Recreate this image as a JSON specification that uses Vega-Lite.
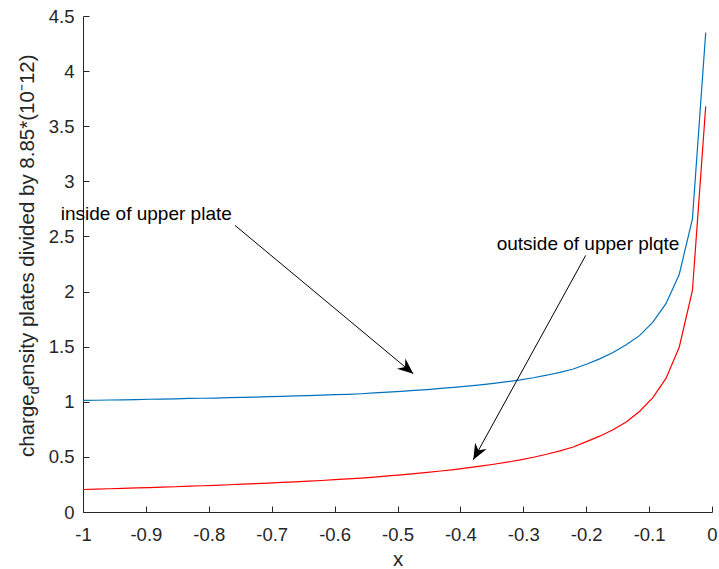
{
  "$schema": "https://vega.github.io/schema/vega-lite/v6.json",
  "width": 629,
  "height": 496,
  "autosize": {"type": "none"},
  "padding": {"left": 83, "top": 16, "right": 7, "bottom": 57},
  "background": "white",
  "config": {
    "view": {"stroke": null},
    "font": "Liberation Sans",
    "axis": {
      "grid": false,
      "domainColor": "#262626",
      "domainWidth": 1,
      "tickColor": "#262626",
      "tickWidth": 1,
      "tickSize": -6,
      "labelFlush": false,
      "labelOverlap": false,
      "labelColor": "#262626",
      "labelFont": "Liberation Sans",
      "labelFontSize": 18.5,
      "labelFontWeight": "normal",
      "titleColor": "#262626",
      "titleFont": "Liberation Sans",
      "titleFontSize": 20.5,
      "titleFontWeight": "normal"
    }
  },
  "datasets": {
    "curves": [
      {"x": -1.0000, "inside": 1.012, "outside": 0.204},
      {"x": -0.9789, "inside": 1.014, "outside": 0.207},
      {"x": -0.9579, "inside": 1.016, "outside": 0.211},
      {"x": -0.9368, "inside": 1.018, "outside": 0.214},
      {"x": -0.9157, "inside": 1.020, "outside": 0.218},
      {"x": -0.8947, "inside": 1.023, "outside": 0.222},
      {"x": -0.8736, "inside": 1.024, "outside": 0.225},
      {"x": -0.8526, "inside": 1.026, "outside": 0.229},
      {"x": -0.8315, "inside": 1.030, "outside": 0.234},
      {"x": -0.8104, "inside": 1.032, "outside": 0.238},
      {"x": -0.7894, "inside": 1.034, "outside": 0.242},
      {"x": -0.7683, "inside": 1.037, "outside": 0.247},
      {"x": -0.7472, "inside": 1.040, "outside": 0.252},
      {"x": -0.7262, "inside": 1.043, "outside": 0.257},
      {"x": -0.7051, "inside": 1.046, "outside": 0.262},
      {"x": -0.6840, "inside": 1.049, "outside": 0.268},
      {"x": -0.6630, "inside": 1.053, "outside": 0.274},
      {"x": -0.6419, "inside": 1.056, "outside": 0.280},
      {"x": -0.6209, "inside": 1.060, "outside": 0.286},
      {"x": -0.5998, "inside": 1.064, "outside": 0.293},
      {"x": -0.5787, "inside": 1.068, "outside": 0.300},
      {"x": -0.5577, "inside": 1.073, "outside": 0.308},
      {"x": -0.5366, "inside": 1.080, "outside": 0.317},
      {"x": -0.5155, "inside": 1.087, "outside": 0.327},
      {"x": -0.4945, "inside": 1.095, "outside": 0.337},
      {"x": -0.4734, "inside": 1.103, "outside": 0.348},
      {"x": -0.4523, "inside": 1.111, "outside": 0.359},
      {"x": -0.4313, "inside": 1.121, "outside": 0.372},
      {"x": -0.4102, "inside": 1.131, "outside": 0.385},
      {"x": -0.3891, "inside": 1.142, "outside": 0.400},
      {"x": -0.3681, "inside": 1.154, "outside": 0.416},
      {"x": -0.3470, "inside": 1.167, "outside": 0.433},
      {"x": -0.3260, "inside": 1.182, "outside": 0.452},
      {"x": -0.3049, "inside": 1.198, "outside": 0.473},
      {"x": -0.2838, "inside": 1.218, "outside": 0.497},
      {"x": -0.2628, "inside": 1.241, "outside": 0.524},
      {"x": -0.2417, "inside": 1.267, "outside": 0.555},
      {"x": -0.2206, "inside": 1.297, "outside": 0.590},
      {"x": -0.1996, "inside": 1.341, "outside": 0.638},
      {"x": -0.1785, "inside": 1.389, "outside": 0.688},
      {"x": -0.1574, "inside": 1.447, "outside": 0.746},
      {"x": -0.1364, "inside": 1.518, "outside": 0.817},
      {"x": -0.1153, "inside": 1.600, "outside": 0.912},
      {"x": -0.0943, "inside": 1.720, "outside": 1.036},
      {"x": -0.0732, "inside": 1.890, "outside": 1.212},
      {"x": -0.0521, "inside": 2.155, "outside": 1.495},
      {"x": -0.0311, "inside": 2.660, "outside": 2.010},
      {"x": -0.0100, "inside": 4.350, "outside": 3.680}
    ],
    "notes": [
      {"label": "inside of upper plate", "tx": -1.0355, "ty": 2.70, "x1": -0.7583, "y1": 2.600, "x2": -0.4749, "y2": 1.254},
      {"label": "outside of upper plqte", "tx": -0.3423, "ty": 2.434, "x1": -0.2008, "y1": 2.328, "x2": -0.3795, "y2": 0.474}
    ]
  },
  "layer": [
    {
      "data": {"name": "curves"},
      "mark": {"type": "line", "color": "#0072BD", "strokeWidth": 1.2},
      "encoding": {
        "x": {
          "field": "x", "type": "quantitative", "title": "x",
          "scale": {"domain": [-1, 0], "nice": false, "zero": false},
          "axis": {
            "values": [-1, -0.9, -0.8, -0.7, -0.6, -0.5, -0.4, -0.3, -0.2, -0.1, 0],
            "labelExpr": "replace(format(datum.value, '~g'), '\u2212', '-')",
            "labelPadding": 19,
            "titlePadding": 6
          }
        },
        "y": {
          "field": "inside", "type": "quantitative", "title": null,
          "scale": {"domain": [0, 4.5], "nice": false},
          "axis": {
            "values": [0, 0.5, 1, 1.5, 2, 2.5, 3, 3.5, 4, 4.5],
            "labelExpr": "format(datum.value, '~g')",
            "labelPadding": 15
          }
        }
      }
    },
    {
      "data": {"name": "curves"},
      "mark": {"type": "line", "color": "#FF0000", "strokeWidth": 1.2},
      "encoding": {
        "x": {"field": "x", "type": "quantitative", "title": "x"},
        "y": {"field": "outside", "type": "quantitative", "title": null}
      }
    },
    {
      "data": {"name": "notes"},
      "mark": {"type": "rule", "color": "black", "strokeWidth": 1},
      "encoding": {
        "x": {"field": "x1", "type": "quantitative", "title": "x"},
        "y": {"field": "y1", "type": "quantitative", "title": null},
        "x2": {"field": "x2"},
        "y2": {"field": "y2"}
      }
    },
    {
      "data": {"name": "notes"},
      "transform": [{"filter": "datum.label === 'inside of upper plate'"}],
      "mark": {"type": "point", "shape": "M0,0L-1,-0.42L-0.68,0L-1,0.42Z", "size": 1000, "angle": 39.75, "filled": true, "color": "black", "opacity": 1, "strokeWidth": 0},
      "encoding": {
        "x": {"field": "x2", "type": "quantitative", "title": "x"},
        "y": {"field": "y2", "type": "quantitative", "title": null}
      }
    },
    {
      "data": {"name": "notes"},
      "transform": [{"filter": "datum.label === 'outside of upper plqte'"}],
      "mark": {"type": "point", "shape": "M0,0L-1,-0.42L-0.68,0L-1,0.42Z", "size": 1000, "angle": 118.8, "filled": true, "color": "black", "opacity": 1, "strokeWidth": 0},
      "encoding": {
        "x": {"field": "x2", "type": "quantitative", "title": "x"},
        "y": {"field": "y2", "type": "quantitative", "title": null}
      }
    },
    {
      "data": {"name": "notes"},
      "mark": {"type": "text", "align": "left", "baseline": "middle", "fontSize": 19, "font": "Liberation Sans", "color": "black"},
      "encoding": {
        "x": {"field": "tx", "type": "quantitative", "title": "x"},
        "y": {"field": "ty", "type": "quantitative", "title": null},
        "text": {"field": "label"}
      }
    },
    {
      "data": {"values": [{}]},
      "mark": {"type": "text", "text": "charge", "angle": 270, "align": "right", "baseline": "alphabetic", "fontSize": 20.5, "font": "Liberation Sans", "color": "#262626"},
      "encoding": {
        "x": {"datum": -1.0779, "type": "quantitative", "title": "x"},
        "y": {"datum": 1.068, "type": "quantitative", "title": null}
      }
    },
    {
      "data": {"values": [{}]},
      "mark": {"type": "text", "text": "d", "angle": 270, "align": "left", "baseline": "alphabetic", "dy": 5, "fontSize": 14.3, "font": "Liberation Sans", "color": "#262626"},
      "encoding": {
        "x": {"datum": -1.0779, "type": "quantitative", "title": "x"},
        "y": {"datum": 1.068, "type": "quantitative", "title": null}
      }
    },
    {
      "data": {"values": [{}]},
      "mark": {"type": "text", "text": "ensity plates divided by 8.85*(10⁻12)", "angle": 270, "align": "left", "baseline": "alphabetic", "dx": 8, "fontSize": 20.5, "font": "Liberation Sans", "color": "#262626"},
      "encoding": {
        "x": {"datum": -1.0779, "type": "quantitative", "title": "x"},
        "y": {"datum": 1.068, "type": "quantitative", "title": null}
      }
    }
  ]
}
